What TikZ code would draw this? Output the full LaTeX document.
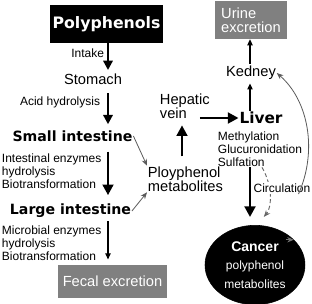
\documentclass[tikz,border=0pt]{standalone}
\usepackage{fontspec}
\setmainfont{Liberation Sans}
\newfontfamily\heavyfont{DejaVu Sans}
\usetikzlibrary{arrows.meta, shapes.geometric}

\begin{document}
\begin{tikzpicture}[x=0.75pt, y=-0.75pt,
	txt/.style={inner sep=0.5pt, font=\fontsize{11}{10.5}\selectfont},
	note/.style={inner sep=0.5pt, align=left, font=\fontsize{9}{9.75}\selectfont},
	organ/.style={inner sep=0.5pt, font=\heavyfont\bfseries\fontsize{10.6}{12}\selectfont},
	greybox/.style={fill=black!50, text=white, inner sep=0pt, font=\fontsize{11}{10.5}\selectfont},
	medarrow/.style={line width=1.6pt, -{Triangle[length=7pt,width=7pt]}},
	bigarrow/.style={line width=2.2pt, -{Triangle[length=8pt,width=8pt]}},
	thinarrow/.style={line width=0.8pt, -{Triangle[length=4.5pt,width=4pt]}},
	greyarrow/.style={draw=black!65, line width=0.6pt, -{Stealth[length=5pt,width=4pt]}},
	greydash/.style={draw=black!60, line width=0.7pt, dash pattern=on 3pt off 2pt, -{Stealth[length=5pt,width=4pt]}}]
	\useasboundingbox (0,0) rectangle (312,304);
	\coordinate (c1) at (108,0);
	\coordinate (c2) at (182,0);
	\coordinate (c3) at (250,0);
	\coordinate (c4) at (262,0);
	\node[fill=black, text=white, minimum width=84.75pt, minimum height=28.5pt, inner sep=0pt, font=\heavyfont\bfseries\fontsize{11.8}{12}\selectfont] (poly) at (106.5,24) {Polyphenols};
	\node[txt] (stomach) at (93,79) {Stomach};
	\node[organ] (small) at (72.5,136) {Small intestine};
	\node[organ] (large) at (70.5,211) {Large intestine};
	\node[greybox, minimum width=81.75pt, minimum height=24.75pt] (fecal) at (112.5,281.5) {Fecal excretion};
	\node[txt, anchor=west, align=left] (metab) at (147,179) {Ployphenol\\metabolites};
	\node[txt, anchor=west, align=left] (hepatic) at (159,106) {Hepatic\\vein};
	\node[organ, font=\heavyfont\bfseries\fontsize{11.5}{12}\selectfont] (liver) at (261,118) {Liver};
	\node[txt] (kedney) at (251,73) {Kedney};
	\node[greybox, minimum width=54pt, minimum height=28.5pt, align=left] (urine) at (251,20) {Urine\\excretion};
	\node[note, anchor=west] (meth) at (217,149) {Methylation\\Glucuronidation\\Sulfation};
	\node[ellipse, fill=black, draw=black, minimum width=75pt, minimum height=56pt, text=white, align=center, font=\fontsize{9}{11}\selectfont] (cancer) at (255,265) {{\bfseries\fontsize{10.5}{11}\selectfont Cancer}\\[3pt]polyphenol\\[3pt]metabolites};
	\node[note, anchor=east] (intake) at (105,53) {Intake};
	\node[note, anchor=east] (acid) at (101,102) {Acid hydrolysis};
	\node[note, anchor=west] (enz) at (1,171) {Intestinal enzymes\\hydrolysis\\Biotransformation};
	\node[note, anchor=west] (micro) at (1,243) {Microbial enzymes\\hydrolysis\\Biotransformation};
	\draw[medarrow, shorten >=2pt] (poly.south -| c1) -- (stomach.north -| c1);
	\draw[medarrow, shorten <=6pt, shorten >=4pt] (stomach.south -| c1) -- (small.north -| c1);
	\draw[bigarrow, shorten <=7pt, shorten >=6pt] (small.south -| c1) -- (large.north -| c1);
	\draw[thinarrow, shorten <=2pt, shorten >=4pt] (large.south -| c1) -- (fecal.north -| c1);
	\draw[greyarrow] (small.east) -- (metab.north west);
	\draw[greyarrow] (large.east) -- (metab.south west);
	\draw[bigarrow, shorten <=7pt, shorten >=4.5pt] (metab.north -| c2) -- (hepatic.south -| c2);
	\draw[bigarrow, shorten <=-8pt] (hepatic.east |- liver.west) -- (liver.west);
	\draw[thinarrow, shorten >=2pt] (liver.north -| c3) -- (kedney.south -| c3);
	\draw[thinarrow, shorten <=1pt] (kedney.north -| c3) -- (urine.south -| c3);
	\draw[bigarrow, shorten >=6pt] (meth.south -| c3) -- (cancer.north -| c3);
	\draw[greydash, shorten >=8pt] (meth.south -| c4) to[bend left=35] ([xshift=1.5pt]cancer.north);
	\node[note, fill=white, inner sep=1pt] (circ) at (282,188) {Circulation};
	\draw[greyarrow] (circ.-20) .. controls (318,150) and (308,100) .. (kedney.east);
	\draw[greyarrow, draw=black!55] ([xshift=-6pt]cancer.33) -- (cancer.33);
\end{tikzpicture}
\end{document}
